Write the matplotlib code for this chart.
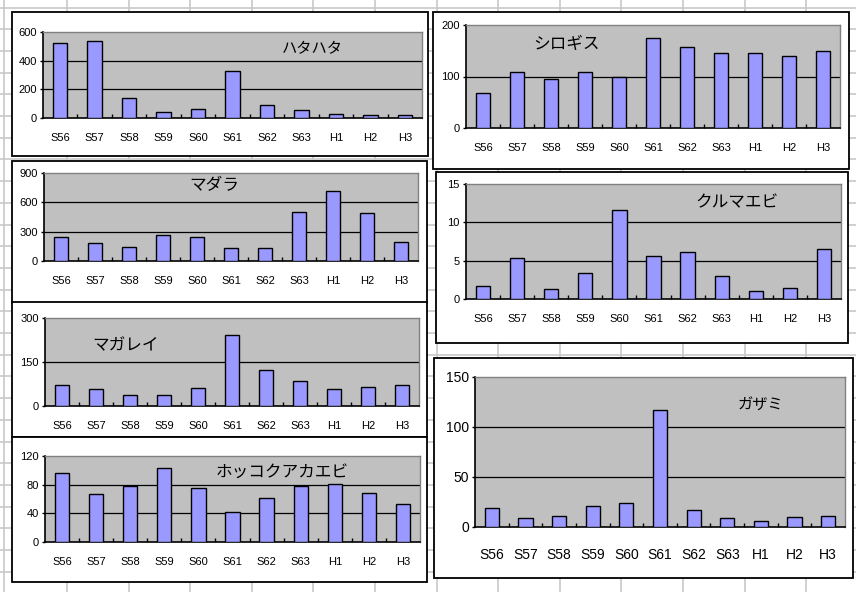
import matplotlib
matplotlib.use("Agg")
import matplotlib.pyplot as plt
from matplotlib.patches import Rectangle

W, H = 856, 592

years = ['S56', 'S57', 'S58', 'S59', 'S60', 'S61', 'S62', 'S63', 'H1', 'H2', 'H3']

# catch per year for each species
hatahata = [523, 540, 140, 40, 65, 328, 91, 56, 30, 21, 21]
shirogisu = [67, 108, 96, 108, 100, 175, 157, 145, 145, 140, 149]
madara = [242, 181, 143, 266, 242, 130, 130, 501, 716, 491, 194]
kurumaebi = [1.7, 5.3, 1.3, 3.4, 11.6, 5.6, 6.1, 3.0, 1.0, 1.4, 6.5]
magarei = [73, 58, 37, 37, 62, 242, 124, 84, 58, 65, 73]
hokkoku = [96, 67, 78, 103, 76, 42, 62, 78, 81, 69, 53]
gazami = [19, 8.6, 10.6, 20.6, 24.2, 117.5, 17, 8.6, 6, 10, 10.6]

narrow = ['DejaVu Sans Condensed', 'Liberation Sans Narrow', 'Liberation Sans']
jp = ['Noto Sans CJK JP', 'DejaVu Sans']


def frac(x0, y0, x1, y1):
    return [x0 / W, 1 - y1 / H, (x1 - x0) / W, (y1 - y0) / H]


fig = plt.figure(figsize=(W / 100, H / 100), dpi=100)

# sheet background with cell grid
bg = fig.add_axes([0, 0, 1, 1])
bg.set_xlim(0, W)
bg.set_ylim(H, 0)
bg.axis('off')
gx = [4] + [67 + 61.6 * k for k in range(14)]
gy = [7.5 + 21.7 * k for k in range(28)]
bg.vlines(gx, 0, H, color='#c8c8c8', lw=1.2)
bg.hlines(gy, 0, W, color='#c8c8c8', lw=1.2)


def chart(box, plot, values, ticks, title, tpos, tsize, lsize=8, xpad=11):
    x0, y0, x1, y1 = box
    bg.add_patch(Rectangle((x0, y0), x1 - x0, y1 - y0, facecolor='white',
                           edgecolor='black', lw=1.3, zorder=3))
    ax = fig.add_axes(frac(*plot))
    ax.set_facecolor('#c0c0c0')
    ax.bar(range(len(years)), values, width=0.42, color='#9999ff',
           edgecolor='black', lw=1.0, zorder=3)
    ax.set_xlim(-0.5, len(years) - 0.5)
    ax.set_ylim(0, ticks[-1])
    ax.set_yticks(ticks)
    ax.set_yticklabels([str(t) for t in ticks], family=narrow,
                       stretch='condensed', fontsize=lsize)
    ax.set_xticks(range(len(years)))
    ax.set_xticklabels(years, family=narrow, stretch='condensed', fontsize=lsize)
    ax.set_xticks([i + 0.5 for i in range(len(years) - 1)], minor=True)
    ax.tick_params(axis='x', which='major', length=0, pad=xpad)
    ax.tick_params(axis='x', which='minor', direction='in', length=3, width=1)
    ax.tick_params(axis='y', direction='out', length=2.5, width=1, pad=2)
    for t in ticks[1:-1]:
        ax.axhline(t, color='black', lw=0.9, zorder=1)
    for s in ('top', 'right'):
        ax.spines[s].set_color('#808080')
        ax.spines[s].set_linewidth(1)
    for s in ('left', 'bottom'):
        ax.spines[s].set_color('black')
        ax.spines[s].set_linewidth(1.2)
    fig.text(tpos[0] / W, 1 - tpos[1] / H, title, family=jp, fontsize=tsize,
             ha='center', va='center')
    return ax


chart((12, 12, 428, 156), (43, 32, 422, 118), hatahata, [0, 200, 400, 600],
      'ハタハタ', (312, 49), 11)
chart((433, 12, 849, 169), (466, 25, 840, 128), shirogisu, [0, 100, 200],
      'シロギス', (566, 44), 12)
chart((12, 161, 427, 303), (44, 173, 418, 261), madara, [0, 300, 600, 900],
      'マダラ', (214, 186), 12)
chart((436, 172, 848, 343), (466, 184, 841, 299), kurumaebi, [0, 5, 10, 15],
      'クルマエビ', (737, 203), 12)
chart((12, 302, 427, 437), (45, 318, 419, 406), magarei, [0, 150, 300],
      'マガレイ', (126, 346), 12)
chart((12, 437, 427, 582), (45, 456, 420, 542), hokkoku, [0, 40, 80, 120],
      'ホッコクアカエビ', (282, 472), 12)
chart((434, 358, 853, 578), (475, 377, 845, 527), gazami, [0, 50, 100, 150],
      'ガザミ', (760, 405), 11, lsize=10, xpad=15)

fig.savefig('out.png', dpi=100)
